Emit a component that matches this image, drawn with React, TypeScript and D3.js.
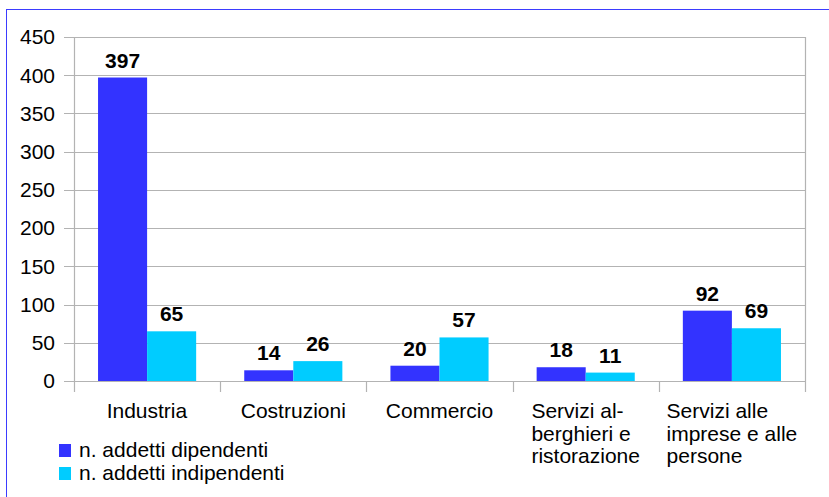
import * as d3 from "d3";
import { useEffect, useRef } from "react";

const categories = [
  ["Industria"],
  ["Costruzioni"],
  ["Commercio"],
  ["Servizi al-", "berghieri e", "ristorazione"],
  ["Servizi alle", "imprese e alle", "persone"],
];
const seriesNames = ["n. addetti dipendenti", "n. addetti indipendenti"];
const dipendenti = [397, 14, 20, 18, 92];
const indipendenti = [65, 26, 57, 11, 69];
const yTicks = [0, 50, 100, 150, 200, 250, 300, 350, 400, 450];
const colors = ["#3333ff", "#00ccff"];

const W = 829;
const H = 497;
const FONT = "'Liberation Sans', Arial, sans-serif";
const FS = 21;

function App() {
  const ref = useRef<SVGSVGElement | null>(null);

  useEffect(() => {
    const svg = d3.select(ref.current);
    svg.selectAll("*").remove();

    // outer frame
    svg.append("rect").attr("x", 6.5).attr("y", 9.5).attr("width", 900).attr("height", 600)
      .attr("fill", "white").attr("stroke", "#3b3bff").attr("stroke-width", 1);

    const left = 74, right = 805, top = 37, bottom = 381;
    const keys = categories.map((c) => c.join(" "));

    const x = d3.scaleBand().domain(keys).range([left, right]);
    const xs = d3.scaleBand().domain(seriesNames).range([0, x.bandwidth()]).paddingOuter(0.49);
    const y = d3.scaleLinear().domain([0, 450]).range([bottom, top]);

    const g = svg.append("g");

    // grid + y ticks
    g.selectAll(".grid").data(yTicks).join("line")
      .attr("x1", left - 10).attr("x2", right)
      .attr("y1", (d) => Math.round(y(d)) + 0.5).attr("y2", (d) => Math.round(y(d)) + 0.5)
      .attr("stroke", "#b3b3b3").attr("stroke-width", 1.2);

    g.selectAll(".ylab").data(yTicks).join("text")
      .attr("x", 55).attr("y", (d) => y(d))
      .attr("dy", "0.35em").attr("text-anchor", "end")
      .attr("font-family", FONT).attr("font-size", FS).attr("fill", "#000")
      .text((d) => d);

    // vertical axis lines
    [left, right].forEach((xv) => {
      g.append("line").attr("x1", xv + 0.5).attr("x2", xv + 0.5).attr("y1", top).attr("y2", bottom + 11)
        .attr("stroke", "#b3b3b3").attr("stroke-width", 1.2);
    });
    // category tick marks
    g.selectAll(".xtick").data(keys.slice(1)).join("line")
      .attr("x1", (d) => Math.round(x(d)!) + 0.5).attr("x2", (d) => Math.round(x(d)!) + 0.5)
      .attr("y1", bottom).attr("y2", bottom + 11)
      .attr("stroke", "#b3b3b3").attr("stroke-width", 1.2);

    const rows = keys.map((k, i) => ({ key: k, values: [dipendenti[i], indipendenti[i]] }));

    const grp = g.selectAll(".cat").data(rows).join("g")
      .attr("transform", (d) => `translate(${x(d.key)},0)`);

    grp.selectAll("rect").data((d) => d.values.map((v, j) => ({ v, s: seriesNames[j], j })))
      .join("rect")
      .attr("x", (d) => xs(d.s)!).attr("width", xs.bandwidth())
      .attr("y", (d) => y(d.v)).attr("height", (d) => y(0) - y(d.v))
      .attr("fill", (d) => colors[d.j]);

    grp.selectAll("text.val").data((d) => d.values.map((v, j) => ({ v, s: seriesNames[j], j })))
      .join("text").attr("class", "val")
      .attr("x", (d) => xs(d.s)! + xs.bandwidth() / 2)
      .attr("y", (d) => y(d.v) - 10)
      .attr("text-anchor", "middle")
      .attr("font-family", FONT).attr("font-size", FS).attr("font-weight", "bold")
      .text((d) => d.v);

    // category labels (multi-line, left aligned block centered)
    categories.forEach((lines, i) => {
      const cx = x(keys[i])! + x.bandwidth() / 2;
      const t = g.append("text")
        .attr("font-family", FONT).attr("font-size", FS).attr("fill", "#000");
      lines.forEach((ln, k) => {
        t.append("tspan").attr("x", 0).attr("y", 418 + k * 22.5).text(ln);
      });
      const bb = (t.node() as SVGTextElement).getBBox();
      t.attr("transform", `translate(${cx - bb.width / 2},0)`);
    });

    // legend
    seriesNames.forEach((s, i) => {
      const ly = 444 + i * 23;
      g.append("rect").attr("x", 59).attr("y", ly).attr("width", 12).attr("height", 13).attr("fill", colors[i]);
      g.append("text").attr("x", 79).attr("y", ly + 13)
        .attr("font-family", FONT).attr("font-size", FS).attr("fill", "#000").text(s);
    });
  }, []);

  return (
    <svg ref={ref} width={W} height={H}
      style={{ position: "absolute", left: 0, top: 0, background: "white" }} />
  );
}

export default App;
